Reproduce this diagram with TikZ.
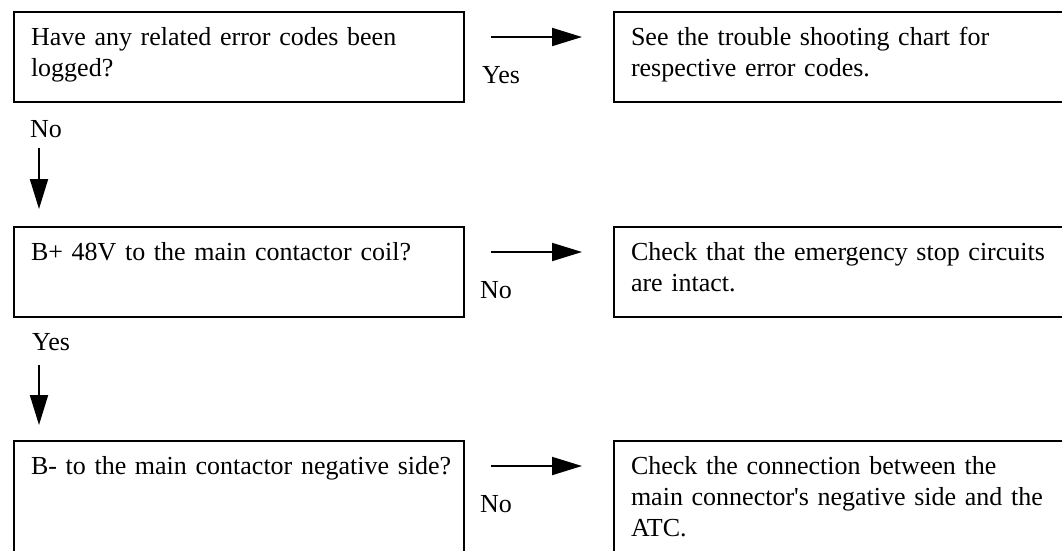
\documentclass[tikz,border=0pt]{standalone}
\usepackage{fontspec}
\setmainfont{Liberation Serif}
\usetikzlibrary{arrows.meta}
\newcommand{\flowbox}[4][]{\node[draw,line width=2pt,anchor=north west,inner xsep=17pt,inner ysep=0pt,text width=416pt,align=left,text height=33pt,text depth=57pt,font=\fontsize{26}{31}\selectfont,#1] at (#2) (#3) {#4}}
\newcommand{\flowlabel}[3]{\node[anchor=base west,inner sep=0pt,font=\fontsize{26}{31}\selectfont] at (#1) (#2) {#3}}

\begin{document}
\begin{tikzpicture}[x=1pt,y=-1pt,>={Triangle[length=30pt,width=18pt]}]
				\clip (0,0) rectangle (1062,550);
				
				\flowbox{13,11}{q1}{Have any related error codes been\\logged?};
				\flowbox{13,226}{q2}{B+ 48V to the main contactor coil?};
				\flowbox[text depth=130pt]{13,440}{q3}{\mbox{B- to the main contactor negative side?}};
				
				\flowbox[text width=440pt]{613,11}{a1}{See the trouble shooting chart for\\respective error codes.};
				\flowbox[text width=440pt]{613,226}{a2}{Check that the emergency stop circuits\\are intact.};
				\flowbox[text width=440pt,text depth=130pt]{613,440}{a3}{Check the connection between the\\main connector\textquotesingle s negative side and the\\ATC.};
				
				\flowlabel{482,83}{y1}{Yes};
				\flowlabel{30,137}{n1}{No};
				\flowlabel{480,298}{n2}{No};
				\flowlabel{32,350}{y2}{Yes};
				\flowlabel{480,512}{n3}{No};
				
				\coordinate (r1a) at ([xshift=26pt,yshift=-26pt]q1.north east);
				\coordinate (r1b) at ([xshift=-31pt,yshift=-26pt]a1.north west);
				\coordinate (r2a) at ([xshift=26pt,yshift=-26pt]q2.north east);
				\coordinate (r2b) at ([xshift=-31pt,yshift=-26pt]a2.north west);
				\coordinate (r3a) at ([xshift=26pt,yshift=-26pt]q3.north east);
				\coordinate (r3b) at ([xshift=-31pt,yshift=-26pt]a3.north west);
				\coordinate (d1a) at ([xshift=26pt,yshift=-45pt]q1.south west);
				\coordinate (d1b) at ([xshift=26pt,yshift=17pt]q2.north west);
				\coordinate (d2a) at ([xshift=26pt,yshift=-47pt]q2.south west);
				\coordinate (d2b) at ([xshift=26pt,yshift=15pt]q3.north west);
				
				\draw [->,line width=2pt](r1a) -- (r1b);
				\draw [->,line width=2pt](r2a) -- (r2b);
				\draw [->,line width=2pt](r3a) -- (r3b);
				\draw [->,line width=2pt](d1a) -- (d1b);
				\draw [->,line width=2pt](d2a) -- (d2b);
				
\end{tikzpicture}
\end{document}
